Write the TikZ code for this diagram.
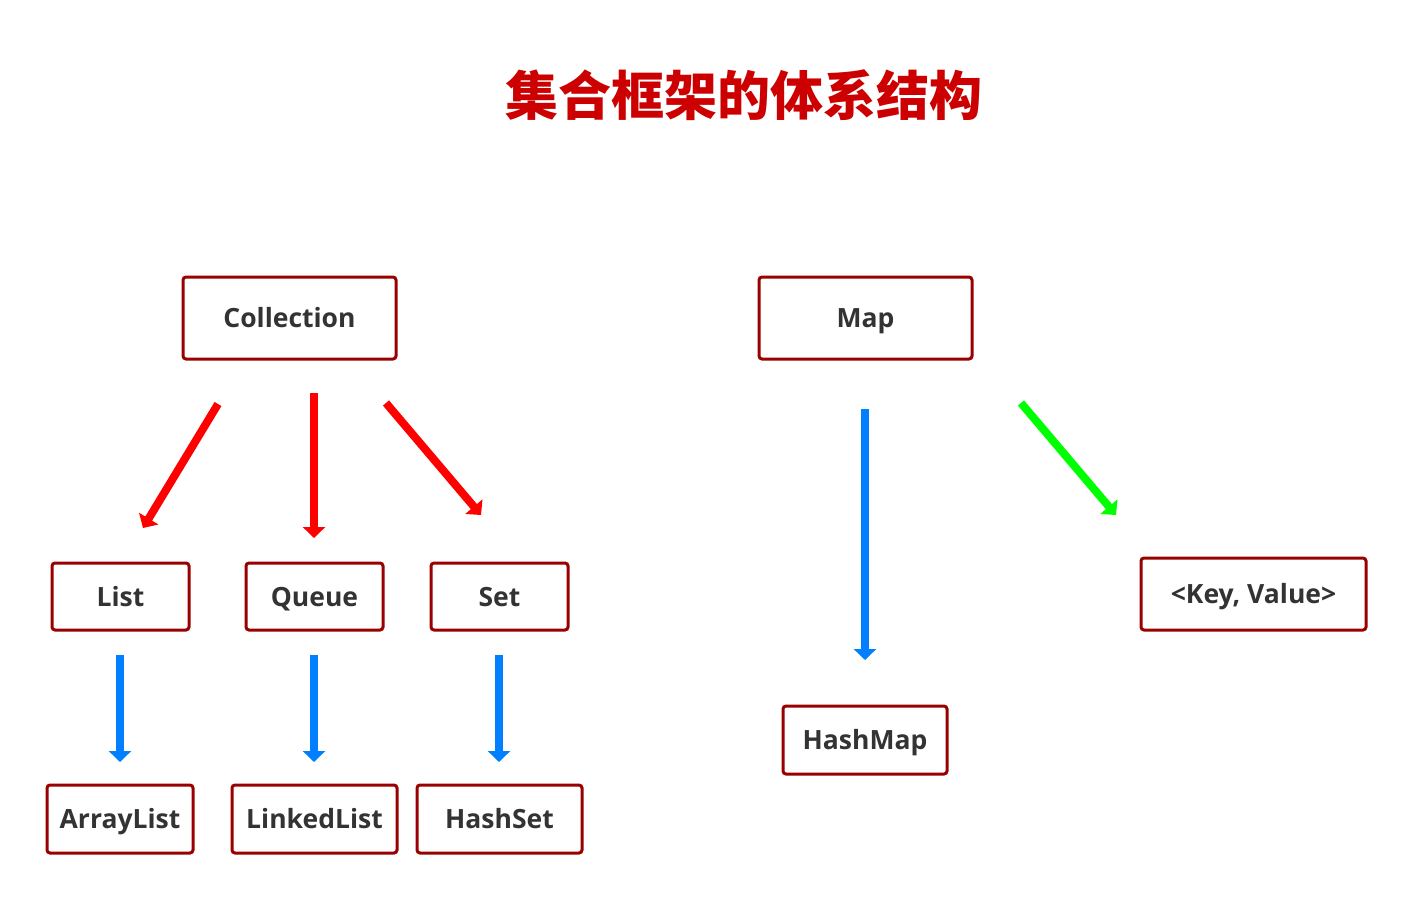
\documentclass[tikz,border=0pt]{standalone}
\usepackage{fontspec}
\setmainfont{Open Sans}
\newfontfamily\cjkfont{Noto Sans CJK SC}
\usepackage{xcolor}
\usetikzlibrary{arrows.meta,positioning}
\definecolor{boxred}{HTML}{990000}
\definecolor{titlered}{HTML}{CC0000}
\definecolor{textgray}{HTML}{333333}
\definecolor{arrred}{HTML}{FF0000}
\definecolor{arrblue}{HTML}{0080FF}
\definecolor{arrgreen}{HTML}{00FF00}

\begin{document}
\begin{tikzpicture}[
      x=1pt, y=-1pt,
      every node/.style={font=\fontsize{26.5}{30}\selectfont\bfseries, text=textgray},
      cbox/.style={draw=boxred, line width=3pt, rounded corners=3pt,
                   minimum height=\bh pt, inner sep=0pt, fill=white,
                   text height=19pt, text depth=0pt},
      harrow/.style={line width=8pt, -{Triangle[width=22pt,length=11pt]}},
    ]
    \useasboundingbox (0,0) rectangle (1426,914);

    % --- title ---
    \node[font=\cjkfont\fontsize{53}{56}\selectfont\bfseries, text=titlered]
      (title) at (743.5,95) {集合框架的体系结构};

    % --- top row ---
    \def\bh{82}
    \node[cbox, minimum width=213pt] (coll) at (289.5,318) {Collection};
    \node[cbox, minimum width=213pt] (map)  at (865.5,318) {Map};

    % --- interfaces ---
    \def\bh{67}
    \foreach \name/\txt/\x in {list/List/120.5, queue/Queue/314.5, set/Set/499.5} {
      \node[cbox, minimum width=137pt] (\name) at (\x,596.5) {\txt};
    }
    \def\bh{72}
    \node[cbox, minimum width=225pt] (kv) at (1253.5,594) {<Key, Value>};

    % --- implementations ---
    \def\bh{68}
    \node[cbox, minimum width=146pt] (alist) at (120,819) {ArrayList};
    \node[cbox, minimum width=165pt] (llist) at (314.5,819) {LinkedList};
    \node[cbox, minimum width=165pt] (hset)  at (499.5,819) {HashSet};
    \node[cbox, minimum width=164pt] (hmap)  at (865,740) {HashMap};

    % --- arrow ends ---
    \coordinate (c1a) at (218,404);  \coordinate (c1b) at (143,528);
    \coordinate (c2a) at (314,393);  \coordinate (c2b) at (314,538);
    \coordinate (c3a) at (386,403);  \coordinate (c3b) at (481,515);
    \coordinate (m1a) at (865,409);  \coordinate (m1b) at (865,660);
    \coordinate (m2a) at (1021,403); \coordinate (m2b) at (1116,515);
    \foreach \n/\x in {l/120, q/314, s/499} {
      \coordinate (\n a) at (\x,655);
      \coordinate (\n b) at (\x,762);
    }

    % --- arrows ---
    \foreach \i in {1,2,3} {
      \draw[harrow, arrred] (c\i a) -- (c\i b);
    }
    \foreach \n in {l,q,s,m1} {
      \draw[harrow, arrblue] (\n a) -- (\n b);
    }
    \draw[harrow, arrgreen] (m2a) -- (m2b);
  \end{tikzpicture}
\end{document}
